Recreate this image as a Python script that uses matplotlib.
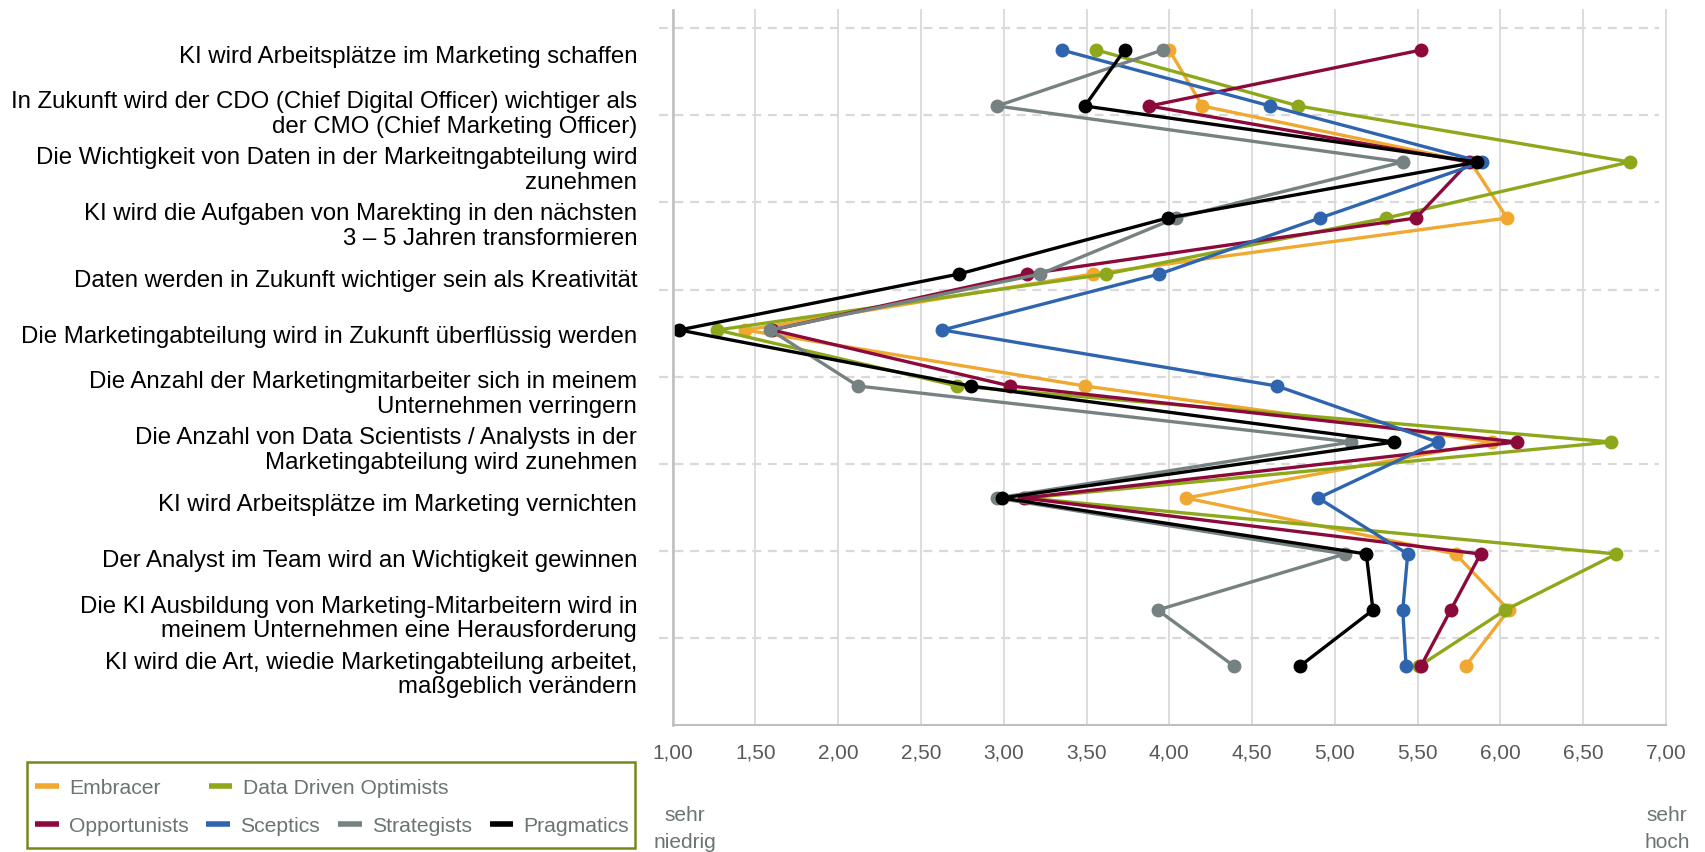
import numpy as np
import matplotlib.pyplot as plt
from matplotlib.lines import Line2D
from matplotlib.patches import Rectangle
from matplotlib.ticker import FuncFormatter, MultipleLocator
from matplotlib.transforms import ScaledTranslation

plt.rcParams['font.family'] = ['Liberation Sans', 'DejaVu Sans']

# statements (top to bottom)
statements = [
    "KI wird Arbeitsplätze im Marketing schaffen",
    "In Zukunft wird der CDO (Chief Digital Officer) wichtiger als\nder CMO (Chief Marketing Officer)",
    "Die Wichtigkeit von Daten in der Markeitngabteilung wird\nzunehmen",
    "KI wird die Aufgaben von Marekting in den nächsten\n3 – 5 Jahren transformieren",
    "Daten werden in Zukunft wichtiger sein als Kreativität",
    "Die Marketingabteilung wird in Zukunft überflüssig werden",
    "Die Anzahl der Marketingmitarbeiter sich in meinem\nUnternehmen verringern",
    "Die Anzahl von Data Scientists / Analysts in der\nMarketingabteilung wird zunehmen",
    "KI wird Arbeitsplätze im Marketing vernichten",
    "Der Analyst im Team wird an Wichtigkeit gewinnen",
    "Die KI Ausbildung von Marketing-Mitarbeitern wird in\nmeinem Unternehmen eine Herausforderung",
    "KI wird die Art, wiedie Marketingabteilung arbeitet,\nmaßgeblich verändern",
]

series = ["Embracer", "Data Driven Optimists", "Opportunists", "Sceptics", "Strategists", "Pragmatics"]
colors = ["#F0A830", "#8DA81A", "#8C0A3B", "#2F65AF", "#768282", "#000000"]

embracer = [4.00, 4.20, 5.82, 6.04, 3.54, 1.44, 3.49, 5.95, 4.10, 5.73, 6.05, 5.79]
ddo = [3.56, 4.78, 6.78, 5.31, 3.62, 1.27, 2.72, 6.67, 3.14, 6.70, 6.03, 5.51]
opportunists = [5.52, 3.88, 5.81, 5.49, 3.14, 1.60, 3.04, 6.10, 3.12, 5.88, 5.70, 5.52]
sceptics = [3.35, 4.61, 5.89, 4.91, 3.94, 2.63, 4.65, 5.62, 4.90, 5.44, 5.41, 5.43]
strategists = [3.96, 2.96, 5.41, 4.04, 3.22, 1.59, 2.12, 5.10, 2.96, 5.06, 3.93, 4.39]
pragmatics = [3.73, 3.49, 5.86, 3.99, 2.73, 1.04, 2.80, 5.36, 2.99, 5.19, 5.23, 4.79]
values = [embracer, ddo, opportunists, sceptics, strategists, pragmatics]

W, H = 1706, 852
fig = plt.figure(figsize=(W / 100, H / 100), dpi=100)
ax = fig.add_axes([672.6 / W, 1 - 725 / H, (1666 - 672.6) / W, (725 - 10) / H])

rows = np.arange(len(statements))
for vals, name, col in zip(values, series, colors):
    ax.plot(vals, rows, '-o', color=col, lw=2.4, markersize=9, label=name)

ax.set_xlim(1, 7)
ax.set_ylim((725 - 50) / 56, (10 - 50) / 56)

# x axis
ax.xaxis.set_major_locator(MultipleLocator(0.5))
ax.xaxis.set_major_formatter(FuncFormatter(lambda v, p: f"{v:.2f}".replace('.', ',')))
ax.tick_params(axis='x', length=0, pad=13, labelsize=15, labelcolor='#595959')
ax.grid(axis='x', color='#dcdcdc', lw=1.4)
for gl in ax.get_xgridlines():
    gl.set_clip_on(False)
ax.set_axisbelow(True)

# dashed horizontal guides
for k in range(8):
    ax.plot([0.92, 6.955], [(28.3 - 50) / 56 + k * 87.09 / 56] * 2, ls=(0, (4, 3)),
            color='#d9d9d9', lw=1.6, zorder=0, clip_on=False)

# y labels
ax.set_yticks(rows)
ax.set_yticklabels(statements, fontsize=17.3, ha='right', linespacing=1.15)
ax.tick_params(axis='y', length=0, pad=25.6)
for lab in ax.get_yticklabels():
    lab.set_transform(lab.get_transform() + ScaledTranslation(0, -0.05, fig.dpi_scale_trans))

for s in ['top', 'right']:
    ax.spines[s].set_visible(False)
ax.spines['left'].set_color('#bfbfbf')
ax.spines['left'].set_linewidth(1.8)
ax.spines['bottom'].set_color('#bfbfbf')
ax.spines['bottom'].set_linewidth(1.5)

fig.text(685 / W, 1 - 829 / H, "sehr\nniedrig", ha='center', va='center', fontsize=15,
         color='#6b7474', linespacing=1.55)
fig.text(1667 / W, 1 - 829 / H, "sehr\nhoch", ha='center', va='center', fontsize=15,
         color='#6b7474', linespacing=1.55)

# legend (two rows, flow layout) inside an olive frame
handles = [Line2D([], [], color=c, lw=4, solid_capstyle='butt') for c in colors]
common = dict(frameon=False, borderpad=0, borderaxespad=0, handlelength=1.12,
              handletextpad=0.48, fontsize=15.2, labelcolor='#6b7474', loc='center left')
fig.legend([handles[0], handles[1]], [series[0], series[1]], ncol=2, columnspacing=2.3,
           bbox_to_anchor=(35 / W, 1 - 788 / H), **common)
fig.legend(handles[2:], series[2:], ncol=4, columnspacing=0.85,
           bbox_to_anchor=(35 / W, 1 - 826 / H), **common)
fig.patches.append(Rectangle((27 / W, 1 - 848 / H), (635 - 27) / W, (848 - 762) / H,
                             transform=fig.transFigure, fill=False, edgecolor='#7A861C', lw=1.8))

fig.savefig('out.png', dpi=100, facecolor='white')
